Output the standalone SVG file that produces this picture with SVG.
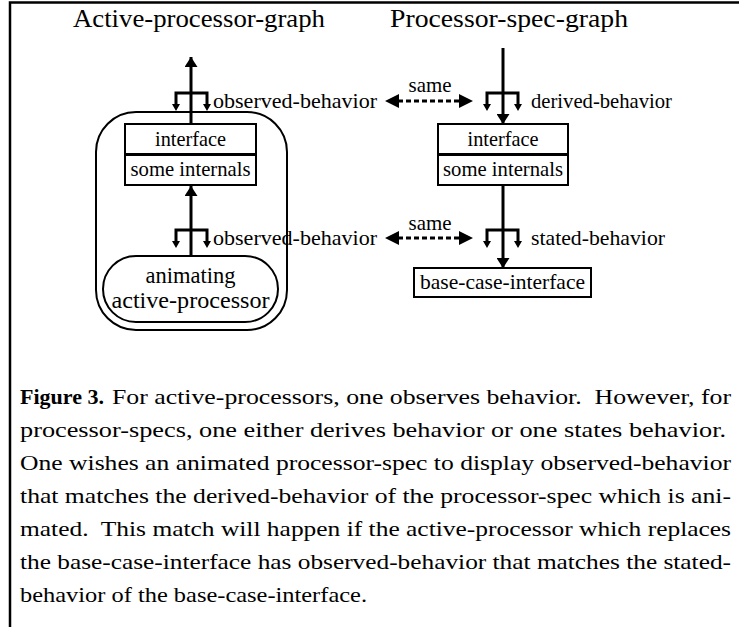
<svg xmlns="http://www.w3.org/2000/svg" width="739" height="627" viewBox="0 0 739 627">
<style>
text{font-family:'Liberation Serif','Times New Roman','DejaVu Serif',serif;fill:#000;white-space:pre}
.lab{font-size:21px}
.title{font-size:26px}
.cap{font-size:22px}
.box{fill:#fff;stroke:#000;stroke-width:2}
.thick{fill:none;stroke:#000;stroke-width:3}
.dash{fill:none;stroke:#000;stroke-width:3;stroke-dasharray:5 3}
</style>
<defs>
<marker id="ah" markerWidth="10" markerHeight="13" refX="10" refY="6.5" orient="auto" markerUnits="userSpaceOnUse"><path d="M0,0 L10,6.5 L0,13 Z" fill="#000"/></marker>
</defs>
<rect width="739" height="627" fill="#fff"/>
<path d="M10,627 V2.5 H739" fill="none" stroke="#000" stroke-width="2.5"/>
<text class="title" x="73" y="27" textLength="252" lengthAdjust="spacingAndGlyphs">Active-processor-graph</text>
<text class="title" x="390" y="27" textLength="238" lengthAdjust="spacingAndGlyphs">Processor-spec-graph</text>

<g id="active-processor">
<rect class="box" x="96" y="112" width="191" height="218" rx="40" ry="40"/>
</g>
<g id="left-interface">
<rect class="box" x="125" y="124" width="131" height="30"/>
<text class="lab" x="190.5" y="146" text-anchor="middle" textLength="71" lengthAdjust="spacingAndGlyphs">interface</text>
</g>
<g id="left-internals">
<rect class="box" x="125" y="155" width="131" height="30"/>
<text class="lab" x="190.5" y="176" text-anchor="middle" textLength="120" lengthAdjust="spacingAndGlyphs">some internals</text>
</g>
<g id="animating">
<rect class="box" x="103" y="256" width="175" height="66" rx="33" ry="33"/>
<text x="190.5" y="283" text-anchor="middle" font-size="23" textLength="90" lengthAdjust="spacingAndGlyphs">animating</text>
<text x="190.5" y="308" text-anchor="middle" font-size="23" textLength="158" lengthAdjust="spacingAndGlyphs">active-processor</text>
</g>
<g id="right-interface">
<rect class="box" x="438" y="124" width="130" height="30"/>
<text class="lab" x="503" y="146" text-anchor="middle" textLength="71" lengthAdjust="spacingAndGlyphs">interface</text>
</g>
<g id="right-internals">
<rect class="box" x="438" y="155" width="130" height="30"/>
<text class="lab" x="503" y="176" text-anchor="middle" textLength="120" lengthAdjust="spacingAndGlyphs">some internals</text>
</g>
<g id="base-case-interface">
<rect class="box" x="414" y="268" width="177" height="29"/>
<text class="lab" x="502.5" y="289" text-anchor="middle" textLength="165" lengthAdjust="spacingAndGlyphs">base-case-interface</text>
</g>

<g id="connectors">
<line class="thick" x1="191" y1="124" x2="191" y2="57" marker-end="url(#ah)"/>
<path class="thick" d="M176,107 V93 H207 V107"/>
<path d="M172,104 L180,104 L176,111 Z M203,104 L211,104 L207,111 Z" fill="#000"/>
<text class="lab" x="213" y="108" textLength="164" lengthAdjust="spacingAndGlyphs">observed-behavior</text>

<line class="thick" x1="191" y1="256" x2="191" y2="186" marker-end="url(#ah)"/>
<path class="thick" d="M176,244 V230 H207 V244"/>
<path d="M172,241 L180,241 L176,248 Z M203,241 L211,241 L207,248 Z" fill="#000"/>
<text class="lab" x="213" y="245" textLength="164" lengthAdjust="spacingAndGlyphs">observed-behavior</text>

<line class="thick" x1="503" y1="48" x2="503" y2="124" marker-end="url(#ah)"/>
<path class="thick" d="M487,107 V93 H518 V107"/>
<path d="M483,104 L491,104 L487,111 Z M514,104 L522,104 L518,111 Z" fill="#000"/>
<text class="lab" x="531" y="108" textLength="141" lengthAdjust="spacingAndGlyphs">derived-behavior</text>

<line class="thick" x1="503" y1="185" x2="503" y2="268" marker-end="url(#ah)"/>
<path class="thick" d="M487,244 V230 H518 V244"/>
<path d="M483,241 L491,241 L487,248 Z M514,241 L522,241 L518,248 Z" fill="#000"/>
<text class="lab" x="531" y="245" textLength="134" lengthAdjust="spacingAndGlyphs">stated-behavior</text>

<line class="dash" x1="398" y1="101" x2="460" y2="101"/>
<path d="M385,101 L399,94 L399,108 Z M473,101 L459,94 L459,108 Z" fill="#000"/>
<text class="lab" x="430" y="92" text-anchor="middle" textLength="43" lengthAdjust="spacingAndGlyphs">same</text>
<line class="dash" x1="398" y1="238" x2="460" y2="238"/>
<path d="M385,238 L399,231 L399,245 Z M473,238 L459,231 L459,245 Z" fill="#000"/>
<text class="lab" x="430" y="230" text-anchor="middle" textLength="43" lengthAdjust="spacingAndGlyphs">same</text>
</g>

<g id="caption">
<text class="cap" x="20" y="404" font-weight="bold" textLength="84" lengthAdjust="spacingAndGlyphs">Figure 3.</text>
<text class="cap" x="112" y="404" textLength="619" lengthAdjust="spacingAndGlyphs">For active-processors, one observes behavior.  However, for</text>
<text class="cap" x="20" y="437" textLength="706" lengthAdjust="spacingAndGlyphs">processor-specs, one either derives behavior or one states behavior.</text>
<text class="cap" x="20" y="470" textLength="711" lengthAdjust="spacingAndGlyphs">One wishes an animated processor-spec to display observed-behavior</text>
<text class="cap" x="20" y="503" textLength="711" lengthAdjust="spacingAndGlyphs">that matches the derived-behavior of the processor-spec which is ani-</text>
<text class="cap" x="20" y="536" textLength="711" lengthAdjust="spacingAndGlyphs">mated.  This match will happen if the active-processor which replaces</text>
<text class="cap" x="20" y="569" textLength="711" lengthAdjust="spacingAndGlyphs">the base-case-interface has observed-behavior that matches the stated-</text>
<text class="cap" x="20" y="602" textLength="347" lengthAdjust="spacingAndGlyphs">behavior of the base-case-interface.</text>
</g>
</svg>
